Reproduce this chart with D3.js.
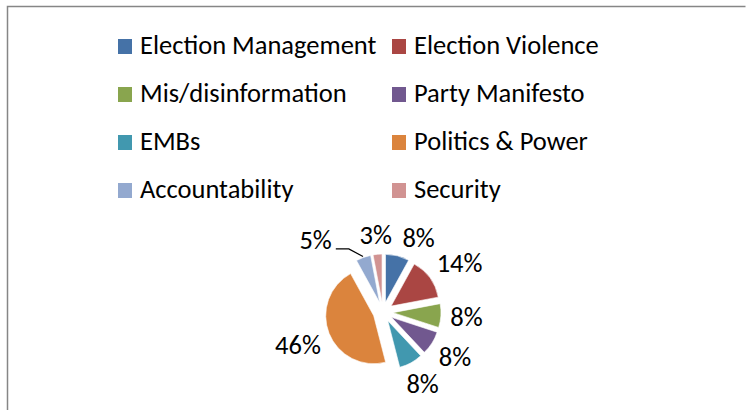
<!DOCTYPE html>
<html>
<head>
<meta charset="utf-8">
<script src="https://cdn.jsdelivr.net/npm/d3@7"></script>
<style>
  html, body { margin: 0; padding: 0; background: #fff; }
  svg { display: block; font-family: Carlito, Calibri, Lato, sans-serif; }
</style>
</head>
<body>
<svg id="chart" width="746" height="410"></svg>
<script>
const categories = [
    'Election Management',
    'Election Violence',
    'Mis/disinformation',
    'Party Manifesto',
    'EMBs',
    'Politics & Power',
    'Accountability',
    'Security'
];
const shares = [8, 14, 8, 8, 8, 46, 5, 3];
const colors = ['#4572A7', '#AA4643', '#89A54E', '#71588F', '#4198AF', '#DB843D', '#93A9CF', '#D19392'];

const width = 746;
const height = 410;
const radius = 48;
const explode = 10;
const center = [383, 312];
const fontSize = 26.5;

const svg = d3.select('#chart');

// chart area frame (only top and left edges fall inside the picture)
svg.append('path')
    .attr('d', `M7.5,${height} V6.5 H745.5`)
    .attr('fill', 'none')
    .attr('stroke', '#868686')
    .attr('stroke-width', 1.5);

// legend: two columns, four rows
const legendCol = d3.scaleOrdinal().domain([0, 1]).range([118, 392]);
const legendRow = d3.scaleLinear().domain([0, 1]).range([54, 102]);

const legend = svg.append('g')
    .selectAll('g')
    .data(categories)
    .join('g')
    .attr('transform', (d, i) => `translate(${legendCol(i % 2)},${legendRow(Math.floor(i / 2))})`);

legend.append('rect')
    .attr('x', 0)
    .attr('y', -15)
    .attr('width', 14)
    .attr('height', 15)
    .attr('fill', (d, i) => colors[i]);

legend.append('text')
    .attr('x', 22)
    .attr('y', 0)
    .style('font-size', fontSize + 'px')
    .attr('fill', '#000')
    .text(d => d);

// pie
const pie = d3.pie().sort(null).value(d => d);
const arcs = pie(shares);
const arc = d3.arc().innerRadius(0).outerRadius(radius);

const midAngle = d => (d.startAngle + d.endAngle) / 2;
const polar = (a, r) => [Math.sin(a) * r, -Math.cos(a) * r];

const pieG = svg.append('g').attr('transform', `translate(${center[0]},${center[1]})`);

pieG.selectAll('path')
    .data(arcs)
    .join('path')
    .attr('transform', d => `translate(${polar(midAngle(d), explode)})`)
    .attr('d', arc)
    .attr('fill', (d, i) => colors[i])
    .attr('stroke', '#fff')
    .attr('stroke-width', 0.6);

// data labels, placed just outside each slice, nudged apart when they collide
const labelG = pieG.append('g')
    .style('font-size', fontSize + 'px')
    .attr('fill', '#000');

const labels = arcs.map(d => {
    const t = labelG.append('text').text(d.data + '%');
    const w = t.node().getComputedTextLength();
    return { d, t, w, h: fontSize * 0.64, angle: midAngle(d) };
});

const placeLabel = l => {
    const dev = l.angle - midAngle(l.d);
    const moved = Math.abs(dev) > 0.25;
    // a label pulled far from its slice goes further out and gets a leader line
    const a = moved ? l.angle + Math.sign(dev) * 0.15 : l.angle;
    const ext = Math.abs(Math.sin(a)) * l.w / 2 + Math.abs(Math.cos(a)) * l.h / 2;
    const dist = radius + explode + 9 + ext + (moved ? 14 : 0);
    const [x, y] = polar(a, dist);
    l.x = x;
    l.y = y;
    l.moved = moved;
};

const overlap = (a, b) =>
    Math.abs(a.x - b.x) < (a.w + b.w) / 2 + 9 && Math.abs(a.y - b.y) < (a.h + b.h) / 2 + 6;

labels.forEach(placeLabel);
for (let iter = 0; iter < 300; iter++) {
    let hit = false;
    labels.forEach((a, i) => {
        labels.forEach((b, j) => {
            if (j <= i || !overlap(a, b)) return;
            hit = true;
            const aa = a.angle < Math.PI / 2 ? a.angle + 2 * Math.PI : a.angle;
            const bb = b.angle < Math.PI / 2 ? b.angle + 2 * Math.PI : b.angle;
            const step = 0.02;
            if (aa < bb) { a.angle -= step; b.angle += step; }
            else { a.angle += step; b.angle -= step; }
            placeLabel(a);
            placeLabel(b);
        });
    });
    if (!hit) break;
}

labels.forEach(l => {
    l.t.attr('x', l.x)
        .attr('y', l.y + l.h / 2)
        .attr('text-anchor', 'middle');
    if (l.moved) {
        const mid = midAngle(l.d);
        const [ox, oy] = polar(mid, explode + radius + 1);
        const sx = l.x + (l.x < 0 ? l.w / 2 + 4 : -l.w / 2 - 4);
        const sy = l.y + l.h / 2;
        const kx = sx + (ox > sx ? 13 : -13);
        labelG.append('path')
            .attr('d', `M${sx},${sy} L${kx},${sy} L${ox},${oy}`)
            .attr('fill', 'none')
            .attr('stroke', '#000')
            .attr('stroke-width', 1.2);
    }
});
</script>
</body>
</html>
